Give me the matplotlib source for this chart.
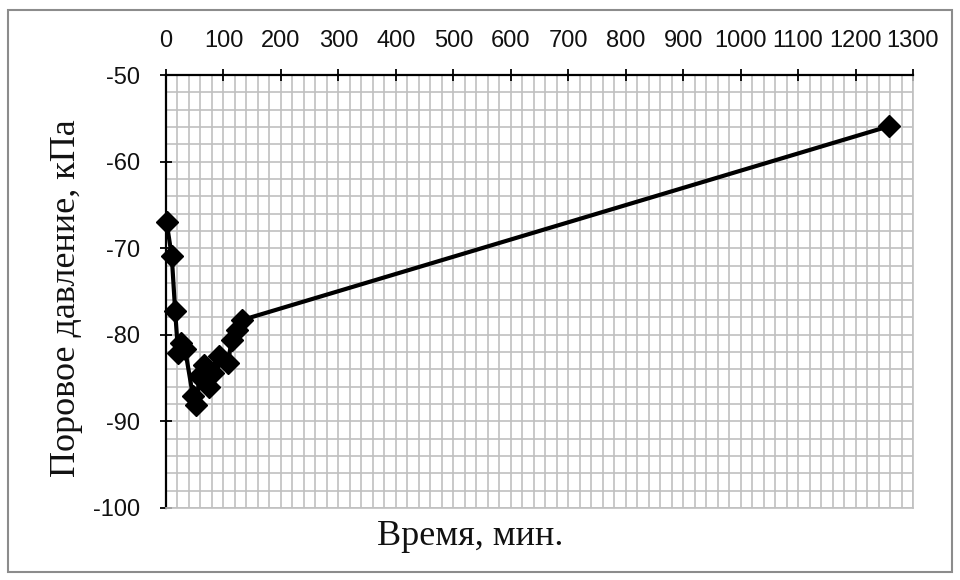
import matplotlib
matplotlib.use("Agg")
import matplotlib.pyplot as plt
from matplotlib.patches import Rectangle
from matplotlib.ticker import MultipleLocator

plt.rcParams["axes.unicode_minus"] = False

# Pore pressure measurements over time
time_min = [1, 10, 16, 21, 26, 33, 47, 53, 58, 66, 74, 82, 92, 108, 114, 123, 132, 1259]
pressure_kpa = [-67.0, -70.9, -77.3, -82.1, -81.0, -81.6, -87.1, -88.1, -84.8, -83.5,
                -86.0, -84.4, -82.5, -83.3, -80.6, -79.4, -78.3, -55.9]

x_ticks = list(range(0, 1301, 100))
y_ticks = list(range(-100, -49, 10))
x_label = "Время, мин."
y_label = "Поровое давление, кПа"

fig = plt.figure(figsize=(9.6, 5.8), dpi=100)
fig.patch.set_facecolor("white")
ax = fig.add_axes([166 / 960, 1 - 508 / 580, (913 - 166) / 960, (508 - 75) / 580])

ax.set_xlim(0, 1300)
ax.set_ylim(-100, -50)

grid_color = "#c0c0c0"
ax.xaxis.set_major_locator(MultipleLocator(100))
ax.xaxis.set_minor_locator(MultipleLocator(20))
ax.yaxis.set_major_locator(MultipleLocator(10))
ax.yaxis.set_minor_locator(MultipleLocator(2))
ax.grid(which="both", color=grid_color, linewidth=1.2, zorder=0)
ax.set_axisbelow(True)

ax.set_xticks(x_ticks)
ax.set_yticks(y_ticks)

# horizontal axis drawn along the top edge
ax.xaxis.set_ticks_position("top")
ax.xaxis.set_label_position("top")
ax.tick_params(axis="x", which="major", direction="inout", length=9, width=1.3,
               color="black", pad=12, labelsize=17, labelcolor="#111111")
ax.tick_params(axis="y", which="major", direction="inout", length=9, width=1.3,
               color="black", pad=14, labelsize=17, labelcolor="#111111")
ax.tick_params(which="minor", length=0)
for lab in ax.get_xticklabels() + ax.get_yticklabels():
    lab.set_fontfamily("Liberation Sans")

ax.spines["top"].set_color("black")
ax.spines["top"].set_linewidth(1.6)
ax.spines["left"].set_color("black")
ax.spines["left"].set_linewidth(1.6)
ax.spines["right"].set_color(grid_color)
ax.spines["right"].set_linewidth(1.2)
ax.spines["bottom"].set_color(grid_color)
ax.spines["bottom"].set_linewidth(1.2)

ax.plot(time_min, pressure_kpa, color="black", linewidth=3.0, marker="D",
        markersize=11, markerfacecolor="black", markeredgecolor="black",
        clip_on=False, zorder=5)

fig.text(470 / 960, 1 - 545 / 580, x_label, ha="center", va="baseline",
         fontsize=26, family="Liberation Serif", color="#111111")
fig.text(67 / 960, 1 - 298 / 580, y_label, ha="center", va="center", rotation=90,
         fontsize=26, family="Liberation Serif", color="#111111")

# outer frame of the chart area
fig.patches.append(Rectangle((8 / 960, 1 - 572 / 580), (952 - 8) / 960, (572 - 10) / 580,
                             transform=fig.transFigure, fill=False,
                             edgecolor="#8c8c8c", linewidth=1.5))

fig.savefig("out.png", dpi=100, facecolor="white")
